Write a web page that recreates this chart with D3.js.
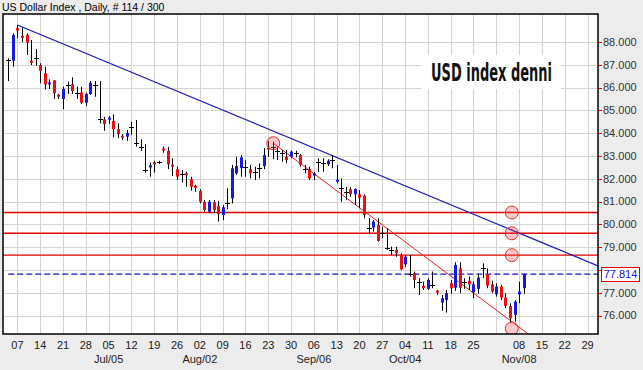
<!DOCTYPE html>
<html><head><meta charset="utf-8">
<script src="https://cdn.jsdelivr.net/npm/d3@7"></script>
<style>html,body{margin:0;padding:0;background:#ececec;overflow:hidden}svg{display:block}</style>
</head><body><svg id="c" width="643" height="370"></svg>
<script>
// ---- data ----
const firstDate = "2005-06-03";
const lastAxisDate = "2005-12-02";
const openV = [87.21,87.18,88.61,88.26,88.31,87.18,87.29,86.99,86.63,86.14,86.32,85.69,85.50,86.11,86.14,85.78,85.79,85.34,85.72,86.11,
84.61,84.61,84.60,84.54,84.18,83.88,83.85,84.26,83.56,83.41,82.39,82.50,82.71,82.72,83.33,83.22,82.61,82.42,82.22,82.23,
81.98,81.68,81.46,80.99,80.56,80.97,80.81,80.41,80.95,81.14,82.24,82.46,82.53,82.42,82.31,82.46,82.56,83.37,83.41,83.23,
83.12,82.97,82.97,83.12,83.04,82.42,82.42,82.14,82.75,82.68,82.64,82.82,81.88,81.58,81.43,81.54,81.32,81.32,81.26,79.86,
79.86,79.97,79.61,78.98,78.88,78.88,78.66,78.25,77.81,77.85,77.46,77.30,77.17,77.34,77.08,76.57,76.68,77.42,77.22,78.07,
77.46,77.52,77.02,77.17,78.07,77.81,77.37,76.93,77.27,76.79,76.42,76.03,76.93,77.20];
const highV = [87.29,88.38,88.75,88.64,88.38,88.09,87.69,87.07,86.92,86.36,86.33,85.72,86.04,86.26,86.45,86.04,86.04,85.78,86.29,86.29,
86.29,84.72,84.75,84.83,84.43,83.96,84.14,84.50,84.58,83.73,83.51,82.71,82.79,82.79,83.41,83.41,82.90,82.53,82.39,82.31,
82.09,81.73,81.54,81.07,81.07,81.07,81.03,80.85,81.58,82.61,82.97,83.04,82.82,82.61,82.53,82.68,83.34,83.66,83.63,83.41,
83.26,83.26,83.23,83.23,83.09,82.61,82.53,82.31,82.90,82.90,82.86,83.04,82.61,82.02,81.65,81.63,81.58,81.51,81.32,80.27,
80.19,80.27,79.90,79.83,79.02,79.02,78.73,78.66,78.66,77.93,77.64,77.49,77.64,77.93,77.12,76.90,77.12,77.56,78.34,78.34,
77.64,77.71,77.49,77.85,78.29,78.07,77.53,77.42,77.34,76.98,76.54,76.68,77.49,77.85];
const lowV = [86.29,86.92,88.16,87.99,87.43,86.99,86.96,86.19,85.92,85.94,85.50,85.50,85.05,85.72,85.72,85.50,85.28,85.19,85.68,85.60,
84.43,84.11,84.40,83.82,83.78,83.70,83.67,83.92,83.41,83.23,82.27,82.09,82.27,82.65,83.14,82.43,82.12,81.95,81.84,81.65,
81.48,81.43,80.92,80.56,80.51,80.49,80.12,80.19,80.66,80.92,82.17,82.09,82.09,82.02,81.95,82.02,82.42,82.96,82.86,82.82,
82.75,82.68,82.90,82.94,82.53,82.24,81.95,81.95,82.31,82.31,82.56,82.46,81.80,80.99,81.07,81.21,80.85,80.71,80.27,79.57,
79.68,79.24,79.39,78.88,78.66,78.58,78.00,78.14,77.71,77.20,76.90,77.12,77.12,77.20,76.90,76.20,76.13,76.95,77.08,76.98,
77.17,77.12,76.76,76.95,77.64,77.20,76.98,76.83,76.68,76.32,75.66,75.73,76.54,76.95];
const closeV = [87.21,88.31,88.50,88.20,87.97,87.09,87.29,86.74,86.14,86.22,85.75,85.60,85.94,86.11,85.85,85.78,85.34,85.72,86.21,86.11,
84.61,84.40,84.67,84.17,83.96,83.82,84.01,84.26,83.56,83.41,82.39,82.59,82.65,82.72,83.24,82.64,82.54,82.09,82.22,82.17,
81.65,81.62,80.99,80.63,80.99,80.63,80.46,80.75,80.95,82.46,82.56,82.94,82.53,82.24,82.31,82.46,83.04,83.28,83.41,83.23,
83.12,82.82,83.19,83.12,82.61,82.42,82.02,82.24,82.75,82.68,82.79,82.82,81.95,81.58,81.43,81.32,81.55,81.17,80.41,79.86,
80.12,79.27,79.61,78.98,78.88,78.73,78.03,78.58,77.81,77.56,77.46,77.20,77.56,77.34,77.01,76.76,76.98,77.20,78.22,77.22,
77.46,77.37,77.37,77.66,78.07,77.31,77.05,77.27,76.79,76.43,75.88,76.61,77.05,77.814];

const weekTickDates = ["2005-06-07","2005-06-14","2005-06-21","2005-06-28","2005-07-05","2005-07-12","2005-07-19","2005-07-26",
"2005-08-02","2005-08-09","2005-08-16","2005-08-23","2005-08-30","2005-09-06","2005-09-13","2005-09-20","2005-09-27",
"2005-10-04","2005-10-11","2005-10-18","2005-10-25","2005-11-01","2005-11-08","2005-11-15","2005-11-22","2005-11-29"];
const weekTickLabels = ["07","14","21","28","05","12","19","26","02","09","16","23","30","06","13","20","27",
"04","11","18","25","","08","15","22","29"];
const monthLabelDates = ["2005-07-05","2005-08-02","2005-09-06","2005-10-04","2005-11-08"];
const monthLabels = ["Jul/05","Aug/02","Sep/06","Oct/04","Nov/08"];
const priceTicks = [76,77,78,79,80,81,82,83,84,85,86,87,88];
const levelPrices = [80.52, 79.61, 78.65];
const lastPrice = 77.814;
const blueTrend = [[2, 88.75],[129.3, 78.18]];      // [bar index, price]
const redTrend = [[58.1, 83.56],[113.75, 75.23]];
const circleIdx = [58.1, 110.4, 110.4, 110.4, 110.4];
const circlePrice = [83.56, 80.52, 79.61, 78.65, 75.43];
const chartTitle = "US Dollar Index , Daily, # 114 / 300";
const noteText = "USD index denni";

// ---- build ----
const parse = d3.timeParse("%Y-%m-%d"), fmt = d3.timeFormat("%Y-%m-%d");
const weekdays = d3.timeDay.range(parse(firstDate), d3.timeDay.offset(parse(lastAxisDate),1))
  .filter(d => d.getDay() >= 1 && d.getDay() <= 5).map(fmt);
const idxOf = s => weekdays.indexOf(s);

const L = 3, R = 598, T = 14, B = 334;
const x = d3.scaleLinear().domain([-1.16, 129.3]).range([L, R]);
const y = d3.scaleLinear().domain([75.19, 89.23]).range([B, T]);

const svg = d3.select("#c");
svg.append("rect").attr("width",643).attr("height",370).attr("fill","#ececec");
svg.append("rect").attr("x",L).attr("y",T).attr("width",R-L).attr("height",B-T).attr("fill","#fff");

svg.append("clipPath").attr("id","pc").append("rect").attr("x",L).attr("y",T).attr("width",R-L).attr("height",B-T);

// grid
const g = svg.append("g").attr("clip-path","url(#pc)");
g.selectAll(".hg").data(priceTicks).join("line")
  .attr("x1",L).attr("x2",R).attr("y1",d=>Math.round(y(d))+0.5).attr("y2",d=>Math.round(y(d))+0.5)
  .attr("stroke","#d4d4d4").attr("stroke-width",1);
g.selectAll(".vg").data(weekTickDates).join("line")
  .attr("y1",T).attr("y2",B).attr("x1",d=>Math.round(x(idxOf(d)))+0.5).attr("x2",d=>Math.round(x(idxOf(d)))+0.5)
  .attr("stroke","#d4d4d4").attr("stroke-width",1);

// note box + text (condensed via horizontal scale so its box matches what is drawn)
g.append("rect").attr("x",421).attr("y",55).attr("width",140).attr("height",34).attr("fill","#fff");
const note = g.append("text").attr("x",0).attr("y",0).text(noteText)
  .attr("font-family","'Liberation Sans Narrow','DejaVu Sans Condensed',sans-serif").attr("font-weight","bold")
  .attr("font-size",24).attr("fill","#111");
const nw = note.node().getComputedTextLength();
note.attr("transform",`translate(431,81) scale(${121/nw},1)`);

// horizontal levels
g.selectAll(".lv").data(levelPrices).join("line")
  .attr("x1",L).attr("x2",R).attr("y1",d=>y(d)).attr("y2",d=>y(d))
  .attr("stroke","#e00000").attr("stroke-width",1.3);

// last price dashed
g.append("line").attr("x1",x(0)).attr("x2",R).attr("y1",y(lastPrice)).attr("y2",y(lastPrice))
  .attr("stroke","#1414c8").attr("stroke-width",1.3).attr("stroke-dasharray","6,3");

// trendlines
const line = d3.line().x(d=>x(d[0])).y(d=>y(d[1]));
g.append("path").attr("d",line(blueTrend)).attr("stroke","#1a1ab4").attr("stroke-width",1.2).attr("fill","none");
g.append("path").attr("d",line(redTrend)).attr("stroke","#e02020").attr("stroke-width",1).attr("fill","none");

// candles
const idx = d3.range(openV.length);
const cg = g.append("g");
cg.selectAll(".wk").data(idx).join("line")
  .attr("x1",i=>Math.round(x(i))+0.5).attr("x2",i=>Math.round(x(i))+0.5)
  .attr("y1",i=>y(highV[i])).attr("y2",i=>y(lowV[i])).attr("stroke","#000").attr("stroke-width",1);
cg.selectAll(".bd").data(idx.filter(i=>openV[i]!==closeV[i])).join("rect")
  .attr("x",i=>Math.round(x(i))-1).attr("width",3)
  .attr("y",i=>{const t=y(Math.max(openV[i],closeV[i])), b=y(Math.min(openV[i],closeV[i])); return (b-t<2)?(t+b)/2-1:t;})
  .attr("height",i=>Math.max(2, y(Math.min(openV[i],closeV[i]))-y(Math.max(openV[i],closeV[i]))))
  .attr("fill",i=>closeV[i]>openV[i]?"#1818e0":"#e81010");
cg.selectAll(".dj").data(idx.filter(i=>openV[i]===closeV[i])).join("line")
  .attr("x1",i=>Math.round(x(i))-2).attr("x2",i=>Math.round(x(i))+3)
  .attr("y1",i=>Math.round(y(openV[i]))+0.5).attr("y2",i=>Math.round(y(openV[i]))+0.5)
  .attr("stroke","#000").attr("stroke-width",1);

// circles
g.selectAll(".cc").data(d3.range(circleIdx.length)).join("circle")
  .attr("cx",i=>x(circleIdx[i])).attr("cy",i=>y(circlePrice[i])).attr("r",6.5)
  .attr("fill","rgba(240,80,80,0.3)").attr("stroke","#e03030").attr("stroke-width",1);

// frame
svg.append("rect").attr("x",L).attr("y",T).attr("width",R-L).attr("height",B-T)
  .attr("fill","none").attr("stroke","#000").attr("stroke-width",1.5);

// right axis (label hidden under last-price box, as in the reference)
const ax = svg.append("g");
ax.selectAll(".tk").data(priceTicks).join("line")
  .attr("x1",R).attr("x2",R+4).attr("y1",d=>Math.round(y(d))+0.5).attr("y2",d=>Math.round(y(d))+0.5)
  .attr("stroke","#e00000");
ax.selectAll(".tl").data(priceTicks.filter(d=>Math.abs(y(d)-y(lastPrice))>12)).join("text")
  .attr("x",R+5).attr("y",d=>y(d)).attr("dy","0.35em").text(d=>d3.format(".3f")(d))
  .attr("font-family","'Liberation Sans',Arial,sans-serif").attr("font-size",11).attr("fill","#333");

// last price box
svg.append("rect").attr("x",601.5).attr("y",Math.round(y(lastPrice))-6.5).attr("width",38).attr("height",14)
  .attr("fill","#fff").attr("stroke","#e00000").attr("stroke-width",1);
svg.append("text").attr("x",620.5).attr("y",y(lastPrice)).attr("dy","0.35em").attr("text-anchor","middle")
  .text(d3.format(".3f")(lastPrice)).attr("font-family","'Liberation Sans',Arial,sans-serif").attr("font-size",11).attr("fill","#1414c8");

// bottom axis labels
svg.selectAll(".dl").data(d3.range(weekTickDates.length).filter(i=>weekTickLabels[i]!=="")).join("text")
  .attr("x",i=>x(idxOf(weekTickDates[i]))).attr("y",349).attr("text-anchor","middle").text(i=>weekTickLabels[i])
  .attr("font-family","'Liberation Sans',Arial,sans-serif").attr("font-size",11).attr("fill","#222");
svg.selectAll(".ml").data(d3.range(monthLabels.length)).join("text")
  .attr("x",i=>x(idxOf(monthLabelDates[i]))).attr("y",363).attr("text-anchor","middle").text(i=>monthLabels[i])
  .attr("font-family","'Liberation Sans',Arial,sans-serif").attr("font-size",11).attr("fill","#222");

// title
svg.append("text").attr("x",2).attr("y",11).text(chartTitle)
  .attr("font-family","'Liberation Sans',Arial,sans-serif").attr("font-size",10.5).attr("fill","#000");
</script></body></html>
